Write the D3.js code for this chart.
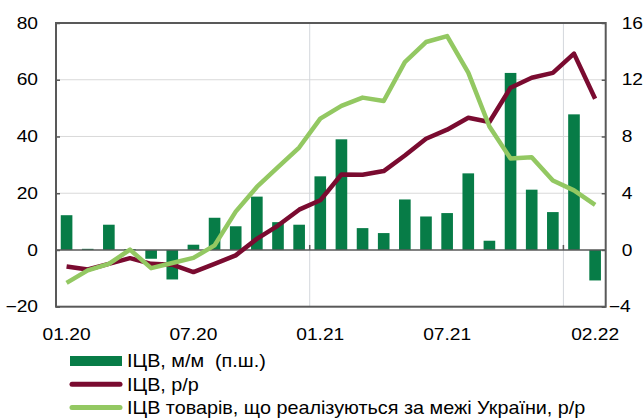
<!DOCTYPE html>
<html>
<head>
<meta charset="utf-8">
<script src="https://cdn.jsdelivr.net/npm/d3@7"></script>
<style>
  html, body { margin: 0; padding: 0; background: #fff; }
  svg { display: block; font-family: "Liberation Sans", Arial, sans-serif; }
</style>
</head>
<body>
<div id="chart"></div>
<script>
const months = ['01.20', '02.20', '03.20', '04.20', '05.20', '06.20', '07.20', '08.20', '09.20', '10.20', '11.20', '12.20',
  '01.21', '02.21', '03.21', '04.21', '05.21', '06.21', '07.21', '08.21', '09.21', '10.21', '11.21', '12.21',
  '01.22', '02.22']

// ІЦВ, м/м (right scale)
const ppiMoM = [2.45, 0.08, 1.78, 0.06, -0.62, -2.08, 0.37, 2.27, 1.67, 3.76, 1.96, 1.78,
  5.19, 7.8, 1.54, 1.19, 3.56, 2.36, 2.6, 5.4, 0.65, 12.48, 4.25, 2.67, 9.56, -2.15]

// ІЦВ, р/р
const ppiYoY = [-5.8, -6.9, -4.9, -2.9, -4.9, -5.2, -7.8, -4.9, -1.9, 3.9, 8.6, 14.2,
  17.5, 26.6, 26.5, 27.8, 33.3, 39.2, 42.4, 46.6, 45.1, 57.2, 60.7, 62.4, 69.2, 53.3]

// ІЦВ товарів, що реалізуються за межі України, р/р
const ppiExportYoY = [-11.6, -7.2, -4.9, 0.1, -6.4, -4.6, -2.8, 1.6, 13.5, 22.2, 29.2, 36.1,
  46.3, 50.8, 53.7, 52.5, 66.2, 73.3, 75.4, 62.5, 43.5, 32.2, 32.7, 24.5, 21.0, 15.9]

const xTickLabels = ['01.20', '07.20', '01.21', '07.21', '02.22']
const yLeftTicks = [-20, 0, 20, 40, 60, 80]
const yRightTicks = [-4, 0, 4, 8, 12, 16]
const yearStarts = ['01.21', '01.22']

const legendLabels = ['ІЦВ, м/м  (п.ш.)', 'ІЦВ, р/р', 'ІЦВ товарів, що реалізуються за межі України, р/р']

const width = 643
const height = 419
const plot = { left: 56, right: 605.7, top: 23, bottom: 306.7 }
const SX = 1.2 // axis text in the original is a bit wide
const SX_LEGEND = 1.1

const colors = { bar: '#077c47', yoy: '#7a0b30', export: '#93c862', frame: '#595959', grid: '#d9d9d9' }

const svg = d3.select('#chart').append('svg').attr('width', width).attr('height', height)

const x = d3.scaleBand()
  .domain(months)
  .range([plot.left, plot.right])
  .paddingInner(0.45)
  .paddingOuter(0.225)

const yL = d3.scaleLinear().domain([-20, 80]).range([plot.bottom, plot.top])
const yR = d3.scaleLinear().domain([-4, 16]).range([plot.bottom, plot.top])

const cx = (m) => x(m) + x.bandwidth() / 2
const boundary = (m) => x(m) - (x.step() - x.bandwidth()) / 2

// grid
svg.append('g')
  .selectAll('line')
  .data([20, 40, 60])
  .join('line')
  .attr('x1', plot.left).attr('x2', plot.right)
  .attr('y1', (d) => yL(d)).attr('y2', (d) => yL(d))
  .attr('stroke', colors.grid).attr('stroke-width', 1)

svg.append('g')
  .selectAll('line')
  .data(yearStarts)
  .join('line')
  .attr('x1', (d) => boundary(d)).attr('x2', (d) => boundary(d))
  .attr('y1', plot.top).attr('y2', plot.bottom)
  .attr('stroke', '#d3d7dc').attr('stroke-width', 1)

// bars
svg.append('g')
  .selectAll('rect')
  .data(months.map((m, i) => ({ m, v: ppiMoM[i] })))
  .join('rect')
  .attr('x', (d) => x(d.m))
  .attr('width', x.bandwidth())
  .attr('y', (d) => yR(Math.max(0, d.v)))
  .attr('height', (d) => Math.abs(yR(d.v) - yR(0)))
  .attr('fill', colors.bar)

// zero line with small year ticks
svg.append('line')
  .attr('x1', plot.left).attr('x2', plot.right)
  .attr('y1', yL(0)).attr('y2', yL(0))
  .attr('stroke', colors.frame).attr('stroke-width', 1.5)

svg.append('g')
  .selectAll('line')
  .data(yearStarts)
  .join('line')
  .attr('x1', (d) => boundary(d)).attr('x2', (d) => boundary(d))
  .attr('y1', yL(0) - 5).attr('y2', yL(0))
  .attr('stroke', colors.frame).attr('stroke-width', 1.5)

// lines
const line = d3.line()
  .x((d) => cx(d.m))
  .y((d) => yL(d.v))

svg.append('path')
  .datum(months.map((m, i) => ({ m, v: ppiYoY[i] })))
  .attr('fill', 'none')
  .attr('stroke', colors.yoy)
  .attr('stroke-width', 4.5)
  .attr('stroke-linejoin', 'round')
  .attr('d', line)

svg.append('path')
  .datum(months.map((m, i) => ({ m, v: ppiExportYoY[i] })))
  .attr('fill', 'none')
  .attr('stroke', colors.export)
  .attr('stroke-width', 4.5)
  .attr('stroke-linejoin', 'round')
  .attr('d', line)

// frame
svg.append('rect')
  .attr('x', plot.left).attr('y', plot.top)
  .attr('width', plot.right - plot.left).attr('height', plot.bottom - plot.top)
  .attr('fill', 'none')
  .attr('stroke', colors.frame).attr('stroke-width', 2)

// axes
const left = svg.append('g')
  .attr('transform', `translate(${plot.left},0)`)
  .call(d3.axisLeft(yL).tickValues(yLeftTicks).tickSizeInner(-4).tickSizeOuter(0).tickPadding(18))
left.select('.domain').remove()
left.selectAll('line').attr('stroke', colors.frame).attr('stroke-width', 1.5)
left.selectAll('text')
  .attr('x', 0)
  .attr('transform', `translate(-18,0) scale(${SX},1)`)

const right = svg.append('g')
  .attr('transform', `translate(${plot.right},0)`)
  .call(d3.axisRight(yR).tickValues(yRightTicks).tickSizeInner(-4).tickSizeOuter(0).tickPadding(16))
right.select('.domain').remove()
right.selectAll('line').attr('stroke', colors.frame).attr('stroke-width', 1.5)
right.selectAll('text')
  .attr('x', 0)
  .attr('transform', (d) => `translate(${d < 0 ? 3 : 16},0) scale(${SX},1)`)

const bottom = svg.append('g')
  .attr('transform', `translate(0,${plot.bottom})`)
  .call(d3.axisBottom(x).tickValues(xTickLabels).tickSize(0).tickPadding(22))
bottom.select('.domain').remove()
bottom.selectAll('text').attr('x', 0).attr('transform', `scale(${SX},1)`)

svg.selectAll('.tick text')
  .attr('fill', '#000')
  .style('font-size', '16px')
  .style('font-family', '"Liberation Sans", Arial, sans-serif')

// legend
const legend = svg.append('g').attr('transform', 'translate(70,361)')
const item = legend.selectAll('g')
  .data(legendLabels)
  .join('g')
  .attr('transform', (_, i) => `translate(0,${i * 23.3})`)

item.filter((_, i) => i === 0)
  .append('rect')
  .attr('x', 0).attr('y', -5).attr('width', 52).attr('height', 10)
  .attr('fill', colors.bar)

item.filter((_, i) => i > 0)
  .append('line')
  .attr('x1', 2).attr('x2', 50)
  .attr('stroke', (_, i) => (i === 0 ? colors.yoy : colors.export))
  .attr('stroke-width', 5)
  .attr('stroke-linecap', 'round')

item.append('text')
  .attr('transform', `translate(57,0) scale(${SX_LEGEND},1)`)
  .attr('dy', '0.35em')
  .style('font-size', '18px')
  .style('white-space', 'pre')
  .attr('fill', '#000')
  .text((d) => d)
</script>
</body>
</html>
